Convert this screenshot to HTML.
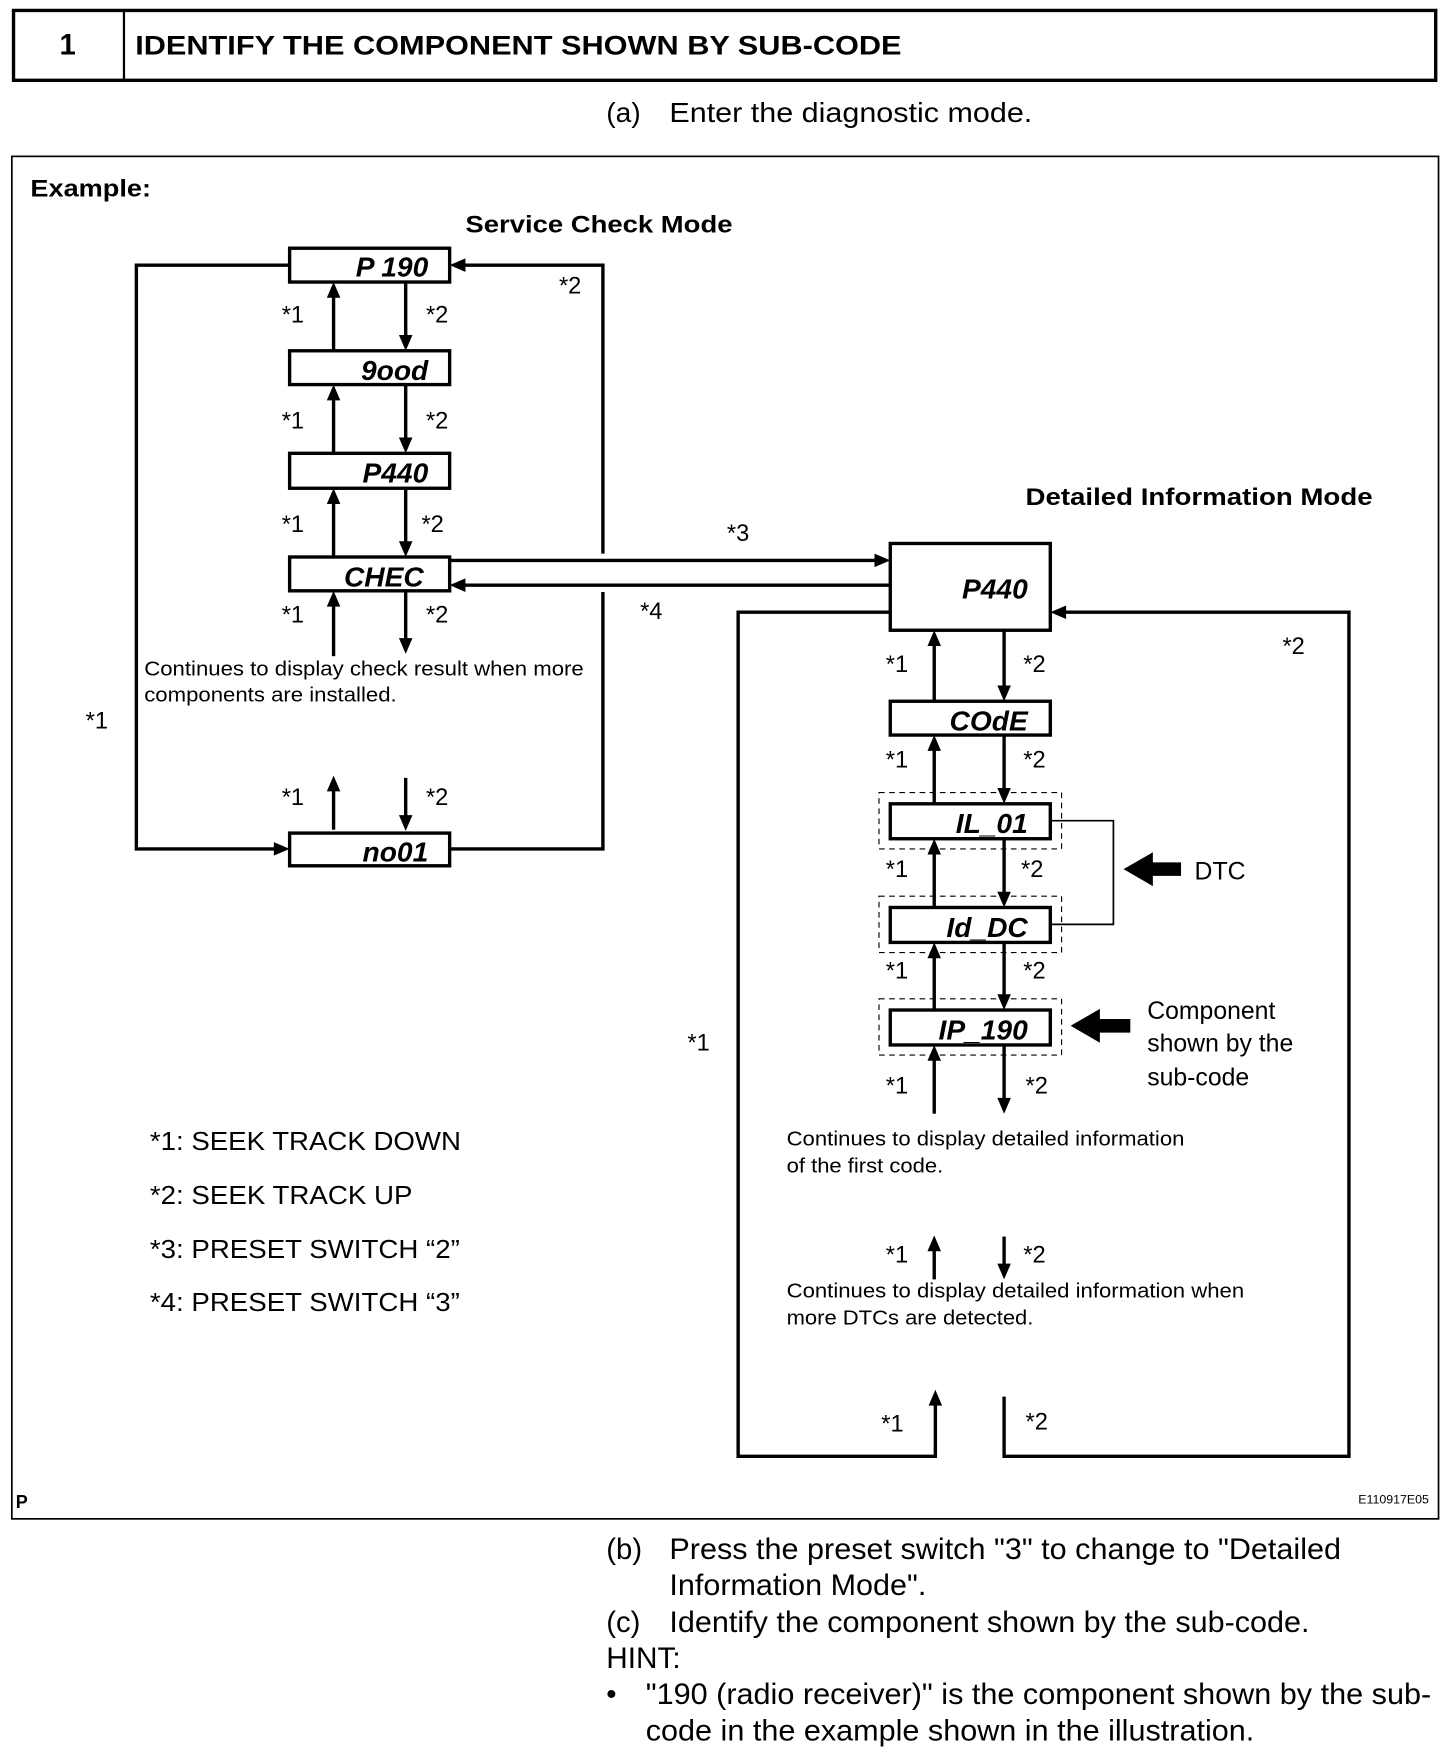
<!DOCTYPE html>
<html><head><meta charset="utf-8"><style>
html,body{margin:0;padding:0;background:#fff;}
svg{display:block;}
text{font-family:"Liberation Sans",Arial,sans-serif;fill:#000;}
.seg{font-family:"Liberation Sans",sans-serif;font-style:italic;font-weight:bold;font-size:25px;}
</style></head><body>
<svg width="1456" height="1762" viewBox="0 0 1292 1563" xmlns="http://www.w3.org/2000/svg">
<!-- header -->
<rect x="12" y="9" width="1262" height="62" fill="none" stroke="#000" stroke-width="3"/>
<line x1="110" y1="9" x2="110" y2="71" stroke="#000" stroke-width="2"/>
<text x="60" y="48" font-size="26" font-weight="bold" text-anchor="middle">1</text>
<text x="120" y="48" font-size="24" font-weight="bold" textLength="680" lengthAdjust="spacingAndGlyphs">IDENTIFY THE COMPONENT SHOWN BY SUB-CODE</text>
<text x="538" y="108" font-size="25">(a)</text>
<text x="594" y="108" font-size="25" textLength="322" lengthAdjust="spacingAndGlyphs">Enter the diagnostic mode.</text>
<!-- frame -->
<rect x="10.5" y="138.5" width="1266" height="1209" fill="none" stroke="#000" stroke-width="1.5"/>
<text x="27" y="174" font-size="21" font-weight="bold" textLength="107" lengthAdjust="spacingAndGlyphs">Example:</text>
<text x="413" y="206" font-size="21" font-weight="bold" textLength="237" lengthAdjust="spacingAndGlyphs">Service Check Mode</text>
<text x="910" y="448" font-size="21" font-weight="bold" textLength="308" lengthAdjust="spacingAndGlyphs">Detailed Information Mode</text>

<g stroke="#000" stroke-width="3" fill="none">
<rect x="257" y="220" width="142" height="30" fill="#fff"/>
<rect x="257" y="311" width="142" height="30" fill="#fff"/>
<rect x="257" y="402" width="142" height="31" fill="#fff"/>
<rect x="257" y="494" width="142" height="30" fill="#fff"/>
<rect x="257" y="739" width="142" height="29" fill="#fff"/>
<polyline points="257,235 121,235 121,753 248,753"/>
<polyline points="399,753 535,753 535,525"/>
<polyline points="535,491 535,235 408,235"/>
<line x1="296" y1="311" x2="296" y2="258"/><line x1="360" y1="250" x2="360" y2="303"/>
<line x1="296" y1="402" x2="296" y2="349"/><line x1="360" y1="341" x2="360" y2="394"/>
<line x1="296" y1="494" x2="296" y2="441"/><line x1="360" y1="433" x2="360" y2="486"/>
<line x1="296" y1="582" x2="296" y2="532"/><line x1="360" y1="524" x2="360" y2="574"/>
<line x1="296" y1="736" x2="296" y2="696"/><line x1="360" y1="690" x2="360" y2="731"/>
<line x1="399" y1="497" x2="781" y2="497"/>
<line x1="790" y1="519" x2="408" y2="519"/>
<rect x="790" y="482" width="142" height="77" fill="#fff"/>
<rect x="790" y="622" width="142" height="30" fill="#fff"/>
<rect x="790" y="713" width="142" height="31" fill="#fff"/>
<rect x="790" y="805" width="142" height="31" fill="#fff"/>
<rect x="790" y="896" width="142" height="31" fill="#fff"/>
<polyline points="790,543 655,543 655,1292 830,1292 830,1243"/>
<polyline points="891,1239 891,1292 1197,1292 1197,543 941,543"/>
<line x1="829" y1="622" x2="829" y2="567"/><line x1="891" y1="559" x2="891" y2="614"/>
<line x1="829" y1="713" x2="829" y2="660"/><line x1="891" y1="652" x2="891" y2="705"/>
<line x1="829" y1="805" x2="829" y2="752"/><line x1="891" y1="744" x2="891" y2="797"/>
<line x1="829" y1="896" x2="829" y2="844"/><line x1="891" y1="836" x2="891" y2="888"/>
<line x1="829" y1="988" x2="829" y2="935"/><line x1="891" y1="927" x2="891" y2="980"/>
<line x1="829" y1="1135" x2="829" y2="1104"/><line x1="891" y1="1097" x2="891" y2="1127"/>
</g>
<g fill="#000">
<path d="M296,250 l-6,14 h12z"/><path d="M360,311 l-6,-14 h12z"/>
<path d="M296,341 l-6,14 h12z"/><path d="M360,402 l-6,-14 h12z"/>
<path d="M296,433 l-6,14 h12z"/><path d="M360,494 l-6,-14 h12z"/>
<path d="M296,524 l-6,14 h12z"/><path d="M360,580 l-6,-14 h12z"/>
<path d="M296,688 l-6,14 h12z"/><path d="M360,737 l-6,-14 h12z"/>
<path d="M257,753 l-14,-6 v12z"/><path d="M399,235 l14,-6 v12z"/>
<path d="M790,497 l-14,-6 v12z"/><path d="M399,519 l14,-6 v12z"/>
<path d="M932,543 l14,-6 v12z"/>
<path d="M829,559 l-6,14 h12z"/><path d="M891,622 l-6,-14 h12z"/>
<path d="M829,652 l-6,14 h12z"/><path d="M891,713 l-6,-14 h12z"/>
<path d="M829,744 l-6,14 h12z"/><path d="M891,805 l-6,-14 h12z"/>
<path d="M829,836 l-6,14 h12z"/><path d="M891,896 l-6,-14 h12z"/>
<path d="M829,927 l-6,14 h12z"/><path d="M891,988 l-6,-14 h12z"/>
<path d="M829,1096 l-6,14 h12z"/><path d="M891,1135 l-6,-14 h12z"/>
<path d="M830,1233 l-6,14 h12z"/>
<path d="M997,771 L1023,756 V765 H1048 V777 H1023 V786z"/>
<path d="M950,910 L976,895 V904 H1003 V916 H976 V925z"/>
</g>
<g stroke="#000" stroke-width="1" fill="none" stroke-dasharray="5,4">
<rect x="780" y="703" width="162" height="50"/>
<rect x="780" y="795" width="162" height="50"/>
<rect x="780" y="886" width="162" height="50"/>
</g>
<polyline points="932,728 988,728 988,820 932,820" fill="none" stroke="#000" stroke-width="1.5"/>

<g class="seg" text-anchor="end">
<text x="380" y="245">P 190</text>
<text x="380" y="337">9ood</text>
<text x="380" y="428">P440</text>
<text x="376" y="520">CHEC</text>
<text x="380" y="764">no01</text>
<text x="912" y="531">P440</text>
<text x="912" y="648">COdE</text>
<text x="912" y="739">IL_01</text>
<text x="912" y="831">Id_DC</text>
<text x="912" y="922">IP_190</text>
</g>

<g font-size="21">
<text x="250" y="286">*1</text><text x="378" y="286">*2</text>
<text x="250" y="380">*1</text><text x="378" y="380">*2</text>
<text x="250" y="472">*1</text><text x="374" y="472">*2</text>
<text x="250" y="552">*1</text><text x="378" y="552">*2</text>
<text x="250" y="714">*1</text><text x="378" y="714">*2</text>
<text x="496" y="260">*2</text>
<text x="76" y="646">*1</text>
<text x="645" y="480">*3</text>
<text x="568" y="549">*4</text>
<text x="1138" y="580">*2</text>
<text x="610" y="932">*1</text>
<text x="786" y="596">*1</text><text x="908" y="596">*2</text>
<text x="786" y="681">*1</text><text x="908" y="681">*2</text>
<text x="786" y="778">*1</text><text x="906" y="778">*2</text>
<text x="786" y="868">*1</text><text x="908" y="868">*2</text>
<text x="786" y="970">*1</text><text x="910" y="970">*2</text>
<text x="786" y="1120">*1</text><text x="908" y="1120">*2</text>
<text x="782" y="1270">*1</text><text x="910" y="1268">*2</text>
</g>
<g font-size="18">
<text x="128" y="599" textLength="390" lengthAdjust="spacingAndGlyphs">Continues to display check result when more</text>
<text x="128" y="622" textLength="224" lengthAdjust="spacingAndGlyphs">components are installed.</text>
<text x="698" y="1016" textLength="353" lengthAdjust="spacingAndGlyphs">Continues to display detailed information</text>
<text x="698" y="1040" textLength="139" lengthAdjust="spacingAndGlyphs">of the first code.</text>
<text x="698" y="1151" textLength="406" lengthAdjust="spacingAndGlyphs">Continues to display detailed information when</text>
<text x="698" y="1175" textLength="219" lengthAdjust="spacingAndGlyphs">more DTCs are detected.</text>
</g>
<text x="1060" y="780" font-size="22">DTC</text>
<g font-size="22">
<text x="1018" y="904">Component</text>
<text x="1018" y="933">shown by the</text>
<text x="1018" y="963">sub-code</text>
</g>
<g font-size="23">
<text x="133" y="1020" textLength="276" lengthAdjust="spacingAndGlyphs">*1: SEEK TRACK DOWN</text>
<text x="133" y="1068" textLength="233" lengthAdjust="spacingAndGlyphs">*2: SEEK TRACK UP</text>
<text x="133" y="1116" textLength="275" lengthAdjust="spacingAndGlyphs">*3: PRESET SWITCH “2”</text>
<text x="133" y="1163" textLength="275" lengthAdjust="spacingAndGlyphs">*4: PRESET SWITCH “3”</text>
</g>
<text x="14" y="1338" font-size="16" font-weight="bold">P</text>
<text x="1268" y="1334" font-size="11" text-anchor="end">E110917E05</text>

<g font-size="26">
<text x="538" y="1383">(b)</text>
<text x="594" y="1383" textLength="596" lengthAdjust="spacingAndGlyphs">Press the preset switch "3" to change to "Detailed</text>
<text x="594" y="1415" textLength="228" lengthAdjust="spacingAndGlyphs">Information Mode".</text>
<text x="538" y="1448">(c)</text>
<text x="594" y="1448" textLength="568" lengthAdjust="spacingAndGlyphs">Identify the component shown by the sub-code.</text>
<text x="538" y="1480" textLength="66" lengthAdjust="spacingAndGlyphs">HINT:</text>
<text x="538" y="1512">•</text>
<text x="573" y="1512" textLength="697" lengthAdjust="spacingAndGlyphs">"190 (radio receiver)" is the component shown by the sub-</text>
<text x="573" y="1544" textLength="540" lengthAdjust="spacingAndGlyphs">code in the example shown in the illustration.</text>
</g>
</svg>
</body></html>
